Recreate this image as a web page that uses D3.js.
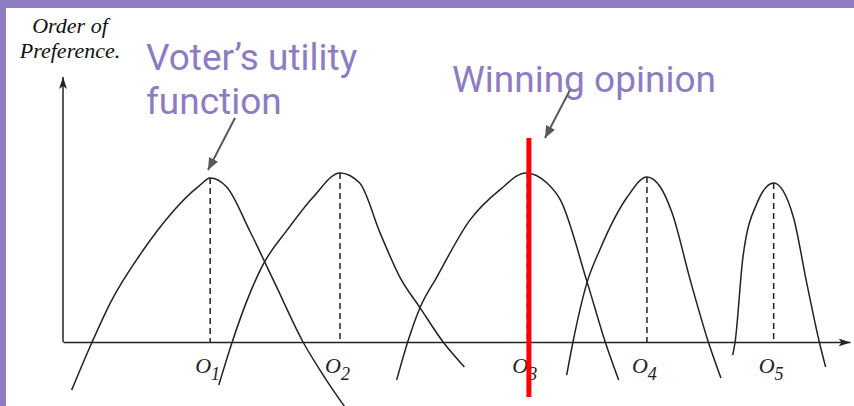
<!DOCTYPE html>
<html>
<head>
<meta charset="utf-8">
<script src="https://cdn.jsdelivr.net/npm/d3@7"></script>
<style>
  body { margin: 0; background: #fff; }
  svg { display: block; }
</style>
</head>
<body>
<div id="chart"></div>
<script>
      // opinions on the axis and their labels
      var opinions = [1.87, 3.52, 5.90, 7.42, 9.03];
      var opinionLabels = ["1", "2", "3", "4", "5"];
      var peaks = [6.19, 6.38, 6.38, 6.23, 6.0];
      var yTitleLines = ["Order of", "Preference."];

      // one utility curve per voter
      var curve1 = [[0.11,-1.81],[0.37,0],[0.60,1.47],[1.02,3.47],[1.73,5.89],[1.87,6.19],
                    [2.08,5.85],[2.38,4.15],[2.69,2.23],[3.05,0],[3.33,-1.36],[3.61,-2.57]];
      var curve2 = [[1.98,-1.62],[2.15,0],[2.34,1.58],[2.54,2.91],[2.85,4.23],[3.18,5.47],[3.52,6.38],
                    [3.77,6.0],[4.03,4.11],[4.28,2.45],[4.54,1.28],[4.83,0],[5.10,-0.94]];
      var curve3 = [[4.24,-1.43],[4.38,0],[4.54,1.32],[4.75,2.45],[5.17,4.60],[5.55,5.74],[5.88,6.38],
                    [6.15,6.0],[6.32,5.36],[6.66,2.26],[6.89,0],[7.06,-1.43]];
      var curve4 = [[6.40,-1.25],[6.48,0],[6.66,2.26],[6.82,3.47],[7.17,5.47],[7.42,6.23],
                    [7.59,5.85],[7.74,4.87],[7.97,2.34],[8.20,0],[8.36,-1.36]];
      var curve5 = [[8.51,-0.49],[8.54,0],[8.64,3.21],[8.82,5.25],[9.03,6.0],
                    [9.28,4.72],[9.45,2.23],[9.61,0],[9.69,-0.94]];
      var curves = [curve1, curve2, curve3, curve4, curve5];

      var winner = 5.92;

      var width = 854, height = 406;
      var purple = "#8e7cc3";

      var svg = d3.select("#chart").append("svg")
          .attr("width", width)
          .attr("height", height);

      svg.append("rect").attr("width", width).attr("height", height).attr("fill", "#fff");
      svg.append("rect").attr("width", width).attr("height", 8).attr("fill", purple);
      svg.append("rect").attr("width", 6).attr("height", height).attr("fill", purple);

      var defs = svg.append("defs");
      defs.append("marker")
          .attr("id", "axisArrow")
          .attr("viewBox", "0 0 12 8")
          .attr("refX", 12).attr("refY", 4)
          .attr("markerWidth", 12).attr("markerHeight", 8)
          .attr("markerUnits", "userSpaceOnUse")
          .attr("orient", "auto")
          .append("path").attr("d", "M0,0 L12,4 L0,8 L3,4 Z").attr("fill", "#222");
      defs.append("marker")
          .attr("id", "noteArrow")
          .attr("viewBox", "0 0 12 10")
          .attr("refX", 12).attr("refY", 5)
          .attr("markerWidth", 12).attr("markerHeight", 10)
          .attr("markerUnits", "userSpaceOnUse")
          .attr("orient", "auto")
          .append("path").attr("d", "M0,0 L12,5 L0,10 Z").attr("fill", "#595959");

      ////// scales //////
      var xScale = d3.scaleLinear().domain([0, 10]).range([63, 850]);
      var yScale = d3.scaleLinear().domain([0, 10]).range([342, 77]);

      ////// axes //////
      var xAxis = d3.axisBottom(xScale).tickValues([]).tickSizeOuter(0);
      var yAxis = d3.axisLeft(yScale).tickValues([]).tickSizeOuter(0);

      svg.append("g")
          .attr("class", "x axis")
          .attr("transform", "translate(0," + yScale(0) + ")")
          .call(xAxis)
          .select(".domain")
          .attr("stroke", "#222").attr("stroke-width", 1.5)
          .attr("marker-end", "url(#axisArrow)");

      svg.append("g")
          .attr("class", "y axis")
          .attr("transform", "translate(" + xScale(0) + ",0)")
          .call(yAxis)
          .select(".domain")
          .attr("stroke", "#222").attr("stroke-width", 1.5)
          .attr("d", "M0," + yScale(0) + "V" + yScale(10))
          .attr("marker-end", "url(#axisArrow)");

      // dashed drops from each peak
      svg.append("g").selectAll("line")
          .data(opinions)
          .enter().append("line")
          .attr("x1", function(d) { return xScale(d); })
          .attr("x2", function(d) { return xScale(d); })
          .attr("y1", function(d, i) { return yScale(peaks[i]); })
          .attr("y2", yScale(0))
          .attr("stroke", "#222")
          .attr("stroke-width", 1.5)
          .attr("stroke-dasharray", "6,4");

      // utility curves
      var line = d3.line()
          .x(function(d) { return xScale(d[0]); })
          .y(function(d) { return yScale(d[1]); })
          .curve(d3.curveMonotoneX);

      svg.append("g").selectAll("path")
          .data(curves)
          .enter().append("path")
          .attr("d", line)
          .attr("fill", "none")
          .attr("stroke", "#222")
          .attr("stroke-width", 1.5);

      // opinion labels O1..O5
      var labels = svg.append("g").selectAll("text")
          .data(opinions)
          .enter().append("text")
          .attr("x", function(d) { return xScale(d) - 15; })
          .attr("y", 373)
          .attr("font-family", "Liberation Serif, serif")
          .attr("font-style", "italic")
          .attr("font-size", 22)
          .attr("fill", "#222");
      labels.append("tspan").text("O");
      labels.append("tspan")
          .attr("font-size", 18)
          .attr("dy", 7)
          .text(function(d, i) { return opinionLabels[i]; });

      // y axis title, two lines
      svg.append("g").selectAll("text")
          .data(yTitleLines)
          .enter().append("text")
          .attr("x", 70)
          .attr("y", function(d, i) { return 33 + i * 25; })
          .attr("text-anchor", "middle")
          .attr("font-family", "Liberation Serif, serif")
          .attr("font-style", "italic")
          .attr("font-size", 22)
          .attr("fill", "#111")
          .text(function(d) { return d; });

      // winning opinion line
      svg.append("line")
          .attr("x1", xScale(winner)).attr("x2", xScale(winner))
          .attr("y1", 138).attr("y2", 397)
          .attr("stroke", "#ff0000")
          .attr("stroke-width", 5);

      // annotations
      var note1 = svg.append("text")
          .attr("font-family", "Roboto, sans-serif")
          .attr("font-size", 37)
          .attr("fill", purple);
      note1.append("tspan").attr("x", 146).attr("y", 70).text("Voter\u2019s utility");
      note1.append("tspan").attr("x", 146).attr("y", 114).text("function");

      svg.append("text")
          .attr("x", 452).attr("y", 92)
          .attr("font-family", "Roboto, sans-serif")
          .attr("font-size", 37)
          .attr("fill", purple)
          .text("Winning opinion");

      svg.append("line")
          .attr("x1", 235).attr("y1", 118)
          .attr("x2", 208).attr("y2", 170)
          .attr("stroke", "#595959").attr("stroke-width", 2)
          .attr("marker-end", "url(#noteArrow)");
      svg.append("line")
          .attr("x1", 570).attr("y1", 90)
          .attr("x2", 545).attr("y2", 138)
          .attr("stroke", "#595959").attr("stroke-width", 2)
          .attr("marker-end", "url(#noteArrow)");
</script>
</body>
</html>
